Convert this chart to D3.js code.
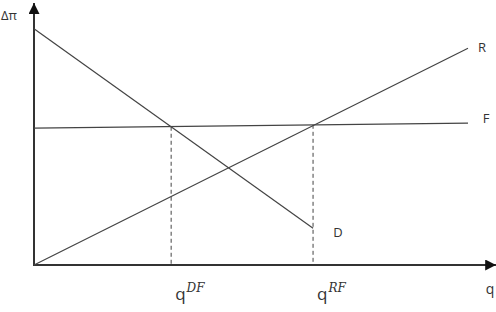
<!DOCTYPE html>
<html>
<head>
<meta charset="utf-8">
<script src="https://cdn.jsdelivr.net/npm/d3@7"></script>
<style>
  html, body { margin: 0; padding: 0; background: #fff; }
  svg { display: block; }
</style>
</head>
<body>
<svg id="chart" width="496" height="312"></svg>
<script>
// Diagramme : Δπ en fonction de q, courbes D, R, F

// courbes (q, Δπ) en unités du graphique
const curveNames = ['D', 'R', 'F'];
const curveD = [[0, 10.9], [6.43, 1.7]];
const curveR = [[0, 0], [10, 10.0]];
const curveF = [[0, 6.32], [10, 6.55]];

// verticales pointillées aux intersections
const dropQ = [3.16, 6.43];
const dropTop = [6.38, 6.47];
const dropSub = ['DF', 'RF'];

const axisMax = { q: 10.65, dpi: 12 };

const svg = d3.select('#chart');

const x = d3.scaleLinear().domain([0, 10]).range([34, 468]);
const y = d3.scaleLinear().domain([0, 12]).range([265, 5]);

const lineColor = '#444';
const axisColor = '#333';

const defs = svg.append('defs');
defs.append('marker')
  .attr('id', 'arrow')
  .attr('viewBox', '0 0 10 10')
  .attr('refX', 10)
  .attr('refY', 5)
  .attr('markerWidth', 5.5)
  .attr('markerHeight', 5.5)
  .attr('markerUnits', 'strokeWidth')
  .attr('orient', 'auto')
  .append('path')
  .attr('d', 'M0,0 L10,5 L0,10 Z')
  .attr('fill', '#111');

// axes
svg.append('line')
  .attr('x1', x(0)).attr('y1', y(0))
  .attr('x2', x(0)).attr('y2', y(axisMax.dpi) - 2)
  .attr('stroke', axisColor)
  .attr('stroke-width', 2)
  .attr('marker-end', 'url(#arrow)');

svg.append('line')
  .attr('x1', x(0) - 1).attr('y1', y(0))
  .attr('x2', x(axisMax.q)).attr('y2', y(0))
  .attr('stroke', axisColor)
  .attr('stroke-width', 2)
  .attr('marker-end', 'url(#arrow)');

// pointillés
svg.selectAll('.drop')
  .data(dropQ)
  .enter()
  .append('line')
  .attr('class', 'drop')
  .attr('x1', d => x(d))
  .attr('x2', d => x(d))
  .attr('y1', (d, i) => y(dropTop[i]))
  .attr('y2', y(0))
  .attr('stroke', lineColor)
  .attr('stroke-width', 1)
  .attr('stroke-dasharray', '4,3');

// courbes
const line = d3.line().x(d => x(d[0])).y(d => y(d[1]));
[curveD, curveR, curveF].forEach(pts => {
  svg.append('path')
    .attr('d', line(pts))
    .attr('fill', 'none')
    .attr('stroke', lineColor)
    .attr('stroke-width', 1.2);
});

// étiquettes des courbes
const labelFont = '"Open Sans", "Liberation Sans", sans-serif';
const labelPos = {
  D: [curveD[1][0], curveD[1][1], 25, 5],
  R: [curveR[1][0], curveR[1][1], 14, 0],
  F: [curveF[1][0], curveF[1][1], 18, -4]
};
curveNames.forEach(name => {
  const p = labelPos[name];
  svg.append('text')
    .attr('x', x(p[0]) + p[2])
    .attr('y', y(p[1]) + p[3])
    .attr('text-anchor', 'middle')
    .attr('dominant-baseline', 'middle')
    .attr('font-family', labelFont)
    .attr('font-size', '13px')
    .attr('fill', '#333')
    .text(name);
});

// titres des axes
svg.append('text')
  .attr('x', 9)
  .attr('y', 17)
  .attr('text-anchor', 'middle')
  .attr('dominant-baseline', 'middle')
  .attr('font-family', labelFont)
  .attr('font-size', '13px')
  .attr('fill', '#333')
  .text('Δπ');

svg.append('text')
  .attr('x', 490)
  .attr('y', 290)
  .attr('text-anchor', 'middle')
  .attr('dominant-baseline', 'middle')
  .attr('font-family', labelFont)
  .attr('font-size', '14px')
  .attr('fill', '#333')
  .text('q');

// q^DF, q^RF
dropQ.forEach((q, i) => {
  const t = svg.append('text')
    .attr('x', x(q) + 4)
    .attr('y', 300)
    .attr('text-anchor', 'start')
    .attr('font-family', labelFont)
    .attr('font-size', '17px')
    .attr('fill', '#333');
  t.append('tspan').text('q');
  t.append('tspan')
    .attr('dx', 1)
    .attr('dy', -8)
    .attr('font-size', '12px')
    .attr('font-style', 'italic')
    .attr('font-family', '"DejaVu Serif", serif')
    .text(dropSub[i]);
});
</script>
</body>
</html>
